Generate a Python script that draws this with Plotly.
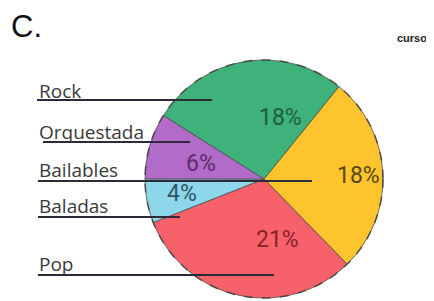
import plotly.graph_objects as go

# Data
labels = ["Bailables", "Pop", "Baladas", "Orquestada", "Rock"]
values = [18, 21, 4, 6, 18]
colors = ["#FDC42E", "#F7626A", "#8ED6EA", "#B26BC8", "#3FB17A"]
text_colors = ["#5A4610", "#8A1F2C", "#2C5763", "#5D2C6E", "#1F5C3E"]

# Legend-like labels on the left (top to bottom)
side_labels = ["Rock", "Orquestada", "Bailables", "Baladas", "Pop"]

# window size and page offset (default body margin)
WIN_W, WIN_H, OFF = 434, 301, 8
W, H = WIN_W - OFF, WIN_H - OFF
cx, cy, r = 264, 179, 119  # window pixel coords

fig = go.Figure()
fig.add_trace(go.Pie(
    labels=labels, values=values, sort=False, direction="clockwise",
    rotation=39, hole=0,
    marker=dict(colors=colors, line=dict(color="rgba(70,70,70,0.75)", width=1)),
    textinfo="none", hoverinfo="label+value", showlegend=False,
    domain=dict(x=[(cx - r - OFF) / W, (cx + r - OFF) / W],
                y=[max(0, 1 - (cy + r - OFF) / H), 1 - (cy - r - OFF) / H]),
))

# invisible pixel axes for overlay elements
fig.add_trace(go.Scatter(x=[OFF, WIN_W], y=[OFF, WIN_H], mode="markers",
                         marker=dict(opacity=0), hoverinfo="skip", showlegend=False))

# dashed outline around the pie
fig.add_shape(type="circle", x0=cx - r, x1=cx + r, y0=cy - r, y1=cy + r,
              xref="x", yref="y", line=dict(color="rgba(60,60,60,0.8)", width=1.5, dash="dash"))

# percentage labels inside slices
pct_pos = {"Rock": (280, 117), "Bailables": (358, 175), "Orquestada": (201, 163),
           "Baladas": (182, 193), "Pop": (277, 239)}
for lab, v, tc in zip(labels, values, text_colors):
    x, y = pct_pos[lab]
    fig.add_annotation(x=x, y=y, xref="x", yref="y", text=f"{v}%", showarrow=False,
                       font=dict(family="Roboto", size=23, color=tc))

# side labels with underline leader lines
label_y = [91, 132, 170, 206, 264]
line_y = [100, 142, 181, 217, 275]
line_x0 = [37, 43, 38, 38, 38]
line_x1 = [212, 190, 312, 180, 274]
for lab, ly, yy, x0, x1 in zip(side_labels, label_y, line_y, line_x0, line_x1):
    fig.add_annotation(x=37, y=ly, xref="x", yref="y", text=lab, showarrow=False,
                       xanchor="left", yanchor="middle",
                       font=dict(family="Open Sans", size=19, color="#3a3a3a"))
    fig.add_shape(type="line", x0=x0, x1=x1, y0=yy, y1=yy, xref="x", yref="y",
                  line=dict(color="#2b2b3a", width=2))

fig.add_annotation(x=9, y=26, xref="x", yref="y", text="C.", showarrow=False,
                   xanchor="left", yanchor="middle",
                   font=dict(family="Liberation Sans", size=31, color="#111"))
fig.add_annotation(x=429, y=38, xref="x", yref="y", text="<b>curso</b>", showarrow=False,
                   xanchor="right", yanchor="middle",
                   font=dict(family="Liberation Sans", size=11, color="#222"))

fig.update_layout(
    width=W, height=H, autosize=False,
    margin=dict(l=0, r=0, t=0, b=0),
    paper_bgcolor="white", plot_bgcolor="rgba(0,0,0,0)",
    xaxis=dict(range=[OFF, WIN_W], visible=False, fixedrange=True),
    yaxis=dict(range=[WIN_H, OFF], visible=False, fixedrange=True),
)

fig.write_html("out.html")
